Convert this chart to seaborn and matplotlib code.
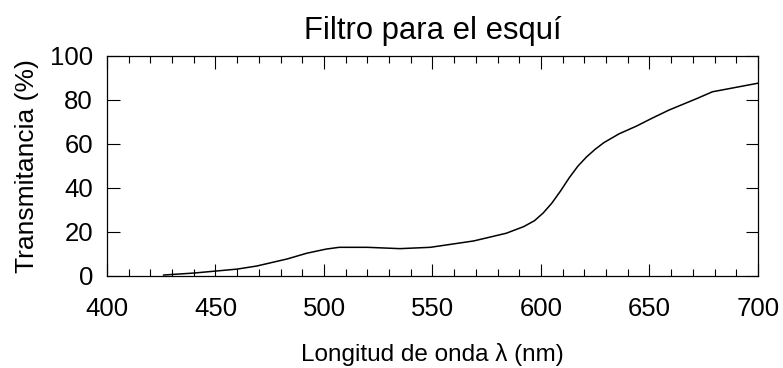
import matplotlib
matplotlib.use("Agg")
import matplotlib.pyplot as plt
from matplotlib.ticker import MultipleLocator
import pandas as pd
import seaborn as sns

# Transmission spectrum of the ski filter
wavelength_nm = [426, 440, 450, 460, 469, 483, 492, 501, 507, 520, 535, 549,
                 569, 584, 592, 597, 601, 605, 609, 613, 617, 621, 625, 629,
                 636, 644, 651, 659, 672, 679, 700]
transmittance = [0.3, 1.2, 2.1, 3.0, 4.4, 7.6, 10.2, 12.1, 12.9, 12.9, 12.3, 12.9,
                 15.8, 19.3, 22.3, 25.0, 28.5, 33.0, 38.5, 44.5, 49.8, 54.0, 57.5, 60.5,
                 64.5, 68.0, 71.5, 75.3, 80.6, 83.6, 87.5]

title_text = "Filtro para el esquí"
x_label = "Longitud de onda λ (nm)"
y_label = "Transmitancia (%)"

df = pd.DataFrame({"wl": wavelength_nm, "T": transmittance})

sns.set_style("ticks")
plt.rcParams["font.family"] = ["Liberation Sans", "DejaVu Sans"]
plt.rcParams["text.color"] = "black"
plt.rcParams["axes.labelcolor"] = "black"
plt.rcParams["xtick.color"] = "black"
plt.rcParams["ytick.color"] = "black"

fig = plt.figure(figsize=(7.83, 3.68), dpi=100)
ax = fig.add_axes([107 / 783, 1 - 275.7 / 368, 651 / 783, 220 / 368])

sns.lineplot(data=df, x="wl", y="T", ax=ax, color="black", linewidth=1.1)

ax.set_xlim(400, 700)
ax.set_ylim(0, 100)
ax.xaxis.set_major_locator(MultipleLocator(50))
ax.xaxis.set_minor_locator(MultipleLocator(10))
ax.yaxis.set_major_locator(MultipleLocator(20))

ax.tick_params(axis="both", which="both", direction="in", top=True, right=True,
               color="black", width=0.8)
ax.tick_params(axis="both", which="major", length=9, labelsize=18.5)
ax.tick_params(axis="y", which="major", pad=10)
ax.tick_params(axis="x", which="minor", length=5)
ax.tick_params(axis="x", which="major", pad=15)

for s in ax.spines.values():
    s.set_linewidth(0.9)
    s.set_color("black")

ax.set_xlabel(x_label, fontsize=17.5, labelpad=16)
ax.set_ylabel(y_label, fontsize=19, labelpad=8)
ax.set_title(title_text, fontsize=22.3, pad=12)

fig.savefig("out.png", dpi=100)
